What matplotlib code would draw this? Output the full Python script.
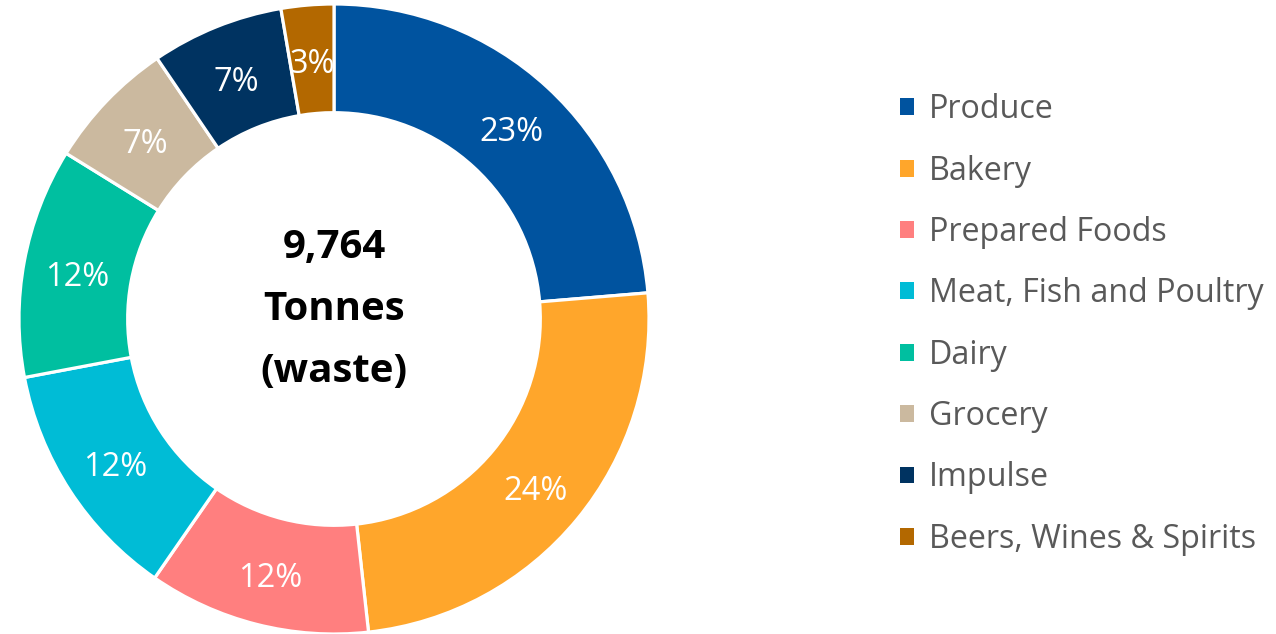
import matplotlib.pyplot as plt
import matplotlib.transforms as mtransforms
from matplotlib.patches import Patch

categories = ['Produce', 'Bakery', 'Prepared Foods', 'Meat, Fish and Poultry',
              'Dairy', 'Grocery', 'Impulse', 'Beers, Wines & Spirits']
# slice sizes as measured off the ring, and the labels the chart prints
shares = [23.7, 24.6, 11.4, 12.4, 11.8, 6.7, 6.8, 2.7]
pct_labels = ['23%', '24%', '12%', '12%', '12%', '7%', '7%', '3%']
colors = ['#00539F', '#FFA62B', '#FF7F7F', '#00BCD6',
          '#00BFA0', '#CBB99F', '#003361', '#B36800']
total_text = '9,764\nTonnes\n(waste)'

plt.rcParams['font.family'] = ['Open Sans', 'DejaVu Sans']

fig = plt.figure(figsize=(12.76, 6.34), dpi=100)
# donut centre at (334, 319) px from top-left, radius ~315 px
r_px = 315
cy = 634 - 319
ax = fig.add_axes([(334 - r_px) / 1276, (cy - r_px) / 634,
                   2 * r_px / 1276, 2 * r_px / 634])

wedges, texts = ax.pie(shares, colors=colors, startangle=90, counterclock=False,
                       radius=1, labels=pct_labels, labeldistance=0.83,
                       wedgeprops=dict(width=0.345, edgecolor='white', linewidth=2.3),
                       textprops=dict(color='white', fontsize=23.5))
# nudge the percent labels down a little
shift = mtransforms.ScaledTranslation(0, -6 / 100, fig.dpi_scale_trans)
for t in texts:
    t.set_horizontalalignment('center')
    t.set_verticalalignment('center')
    t.set_transform(t.get_transform() + shift)
ax.set_xlim(-1, 1)
ax.set_ylim(-1, 1)
ax.set_aspect('equal')
ax.axis('off')

ax.text(0, 0.03, total_text, ha='center', va='center', fontsize=29,
        fontweight='bold', linespacing=1.76, color='black')

handles = [Patch(facecolor=c, edgecolor='none') for c in colors]
fig.legend(handles, categories, loc='center left', bbox_to_anchor=(871 / 1276, 0.488),
           frameon=False, fontsize=23.2, labelcolor='#595959',
           handlelength=0.43, handleheight=0.43, handletextpad=0.46,
           labelspacing=0.88)

plt.savefig('out.png', dpi=100)
